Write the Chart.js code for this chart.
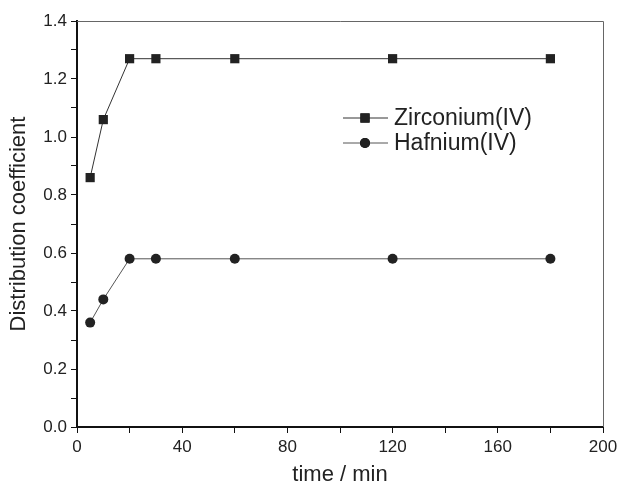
<!DOCTYPE html>
<html>
<head>
<meta charset="utf-8">
<script src="https://cdn.jsdelivr.net/npm/chart.js@4.4.1/dist/chart.umd.min.js"></script>
<style>
html,body{margin:0;padding:0;background:#fff;}
#wrap{width:622px;height:486px;position:relative;}
</style>
</head>
<body>
<div id="wrap"><canvas id="c" width="622" height="486"></canvas></div>
<script>
const times = [5, 10, 20, 30, 60, 120, 180];
const zirconium = [0.86, 1.06, 1.27, 1.27, 1.27, 1.27, 1.27];
const hafnium = [0.36, 0.44, 0.58, 0.58, 0.58, 0.58, 0.58];
const seriesNames = ['Zirconium(IV)', 'Hafnium(IV)'];
const xMajorTicks = [0, 40, 80, 120, 160, 200];
const yMajorTicks = [0.0, 0.2, 0.4, 0.6, 0.8, 1.0, 1.2, 1.4];

const FONT = "'Liberation Sans', Arial, sans-serif";
const TXT = '#222';

const legendPlugin = {
  id: 'insideLegend',
  afterDatasetsDraw(chart) {
    const ctx = chart.ctx;
    const rows = [118, 143];
    chart.data.datasets.forEach((ds, i) => {
      const y = rows[i];
      ctx.save();
      ctx.strokeStyle = ds.borderColor;
      ctx.lineWidth = 1;
      ctx.beginPath();
      ctx.moveTo(343, y); ctx.lineTo(388, y);
      ctx.stroke();
      Chart.helpers.drawPoint(ctx, {pointStyle: ds.pointStyle, radius: ds.pointRadius, borderWidth: 0}, 365, y);
      ctx.fillStyle = '#222';
      ctx.fill();
      ctx.fillStyle = TXT;
      ctx.font = "23px " + FONT;
      ctx.textBaseline = 'middle';
      ctx.textAlign = 'left';
      ctx.fillText(ds.label, 394, y + 1);
      ctx.restore();
    });
  }
};

const framePlugin = {
  id: 'frame',
  afterDraw(chart) {
    const a = chart.chartArea, ctx = chart.ctx;
    ctx.save();
    ctx.strokeStyle = '#666';
    ctx.lineWidth = 1;
    ctx.beginPath();
    ctx.moveTo(a.left, a.top + 0.5);
    ctx.lineTo(a.right + 0.5, a.top + 0.5);
    ctx.lineTo(a.right + 0.5, a.bottom);
    ctx.stroke();
    ctx.restore();
  }
};

new Chart(document.getElementById('c'), {
  type: 'line',
  data: {
    datasets: [
      {
        label: seriesNames[0],
        data: times.map((t, i) => ({x: t, y: zirconium[i]})),
        borderColor: '#333',
        borderWidth: 1,
        pointStyle: 'rect',
        pointRadius: 6.5,
        pointBackgroundColor: '#222',
        pointBorderWidth: 0,
        tension: 0
      },
      {
        label: seriesNames[1],
        data: times.map((t, i) => ({x: t, y: hafnium[i]})),
        borderColor: '#555',
        borderWidth: 1,
        pointStyle: 'circle',
        pointRadius: 5,
        pointBackgroundColor: '#222',
        pointBorderWidth: 0,
        tension: 0
      }
    ]
  },
  options: {
    responsive: false,
    animation: false,
    devicePixelRatio: 1,
    layout: {padding: {left: 0, right: 19, top: 21, bottom: 0}},
    plugins: {legend: {display: false}, tooltip: {enabled: false}},
    scales: {
      x: {
        type: 'linear',
        min: 0, max: 200,
        afterBuildTicks(s) { s.ticks = []; for (let v = 0; v <= 200; v += 20) s.ticks.push({value: v}); },
        afterFit(s) { s.height = 59; },
        border: {display: true, color: '#111', width: 2},
        grid: {drawOnChartArea: false, drawTicks: true, tickLength: 6, color: '#111', tickWidth: 1},
        ticks: {
          color: TXT, font: {family: FONT, size: 17}, padding: 4, maxRotation: 0, autoSkip: false,
          callback: (v) => xMajorTicks.includes(v) ? String(v) : ''
        },
        title: {display: true, text: 'time / min', color: TXT, font: {family: FONT, size: 22, lineHeight: 1}, padding: {top: 0, bottom: 0}}
      },
      y: {
        type: 'linear',
        min: 0, max: 1.4,
        afterBuildTicks(s) { s.ticks = []; for (let k = 0; k <= 14; k++) s.ticks.push({value: k / 10}); },
        afterFit(s) { s.width = 77; },
        border: {display: true, color: '#111', width: 2},
        grid: {drawOnChartArea: false, drawTicks: true, tickLength: 6, color: '#111', tickWidth: 1},
        ticks: {
          color: TXT, font: {family: FONT, size: 17}, padding: 4, autoSkip: false,
          callback: (v) => {
            const m = yMajorTicks.find(t => Math.abs(t - v) < 1e-6);
            return m !== undefined ? m.toFixed(1) : '';
          }
        },
        title: {display: true, text: 'Distribution coefficient', color: TXT, font: {family: FONT, size: 22, lineHeight: 1}, padding: {top: 8, bottom: 0}}
      }
    }
  },
  plugins: [legendPlugin, framePlugin]
});
</script>
</body>
</html>
